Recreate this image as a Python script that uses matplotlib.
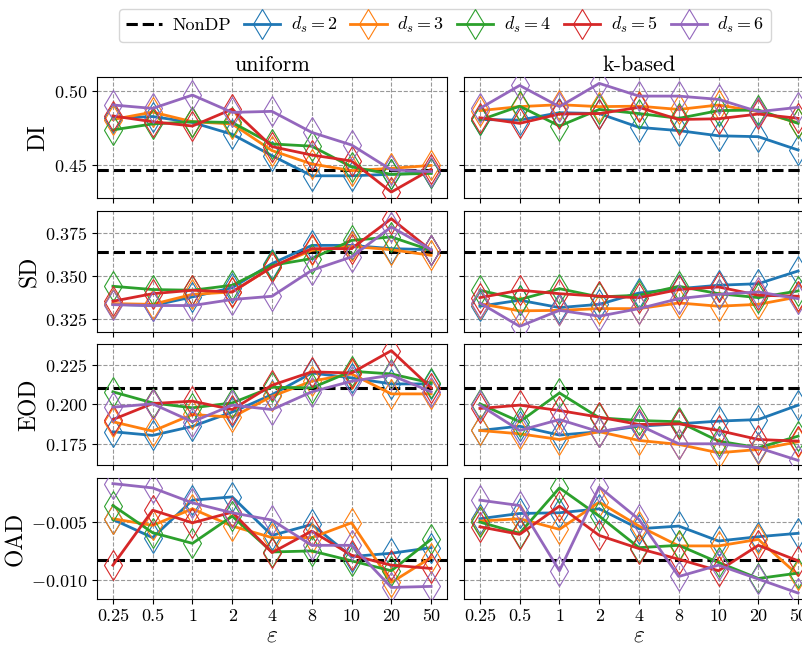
import matplotlib
matplotlib.use("Agg")
import matplotlib.pyplot as plt
from matplotlib.lines import Line2D

plt.rcParams['font.family'] = ['cmr10', 'DejaVu Serif']
plt.rcParams['mathtext.fontset'] = 'cm'
plt.rcParams['axes.unicode_minus'] = False
plt.rcParams['axes.formatter.use_mathtext'] = True

eps_labels = ['0.25', '0.5', '1', '2', '4', '8', '10', '20', '50']
ds_values = [2, 3, 4, 5, 6]
colors = ['#1f77b4', '#ff7f0e', '#2ca02c', '#d62728', '#9467bd']
metrics = ['DI', 'SD', 'EOD', 'OAD']
schemes = ['uniform', 'k-based']

nondp = {'DI': 0.447, 'SD': 0.3638, 'EOD': 0.2103, 'OAD': -0.00827}

# DI
di_uniform = [
    [0.482, 0.483, 0.479, 0.471, 0.4566, 0.443, 0.443, 0.444, 0.445],
    [0.481, 0.486, 0.4795, 0.478, 0.460, 0.451, 0.4465, 0.448, 0.450],
    [0.474, 0.478, 0.4795, 0.479, 0.4645, 0.463, 0.449, 0.444, 0.4446],
    [0.4834, 0.4795, 0.4766, 0.488, 0.4627, 0.457, 0.453, 0.432, 0.4473],
    [0.4908, 0.4885, 0.4975, 0.4858, 0.4865, 0.4723, 0.4638, 0.447, 0.4458],
]
di_kbased = [
    [0.481, 0.4806, 0.4856, 0.485, 0.4757, 0.4735, 0.470, 0.4694, 0.4604],
    [0.487, 0.4897, 0.491, 0.4897, 0.490, 0.4878, 0.4908, 0.4863, 0.4788],
    [0.4806, 0.490, 0.4766, 0.4878, 0.485, 0.4818, 0.487, 0.4874, 0.4784],
    [0.4822, 0.4784, 0.4847, 0.485, 0.4892, 0.481, 0.4815, 0.4847, 0.4818],
    [0.4885, 0.504, 0.4897, 0.5054, 0.4968, 0.4968, 0.4946, 0.4863, 0.4892],
]

# SD
sd_uniform = [
    [0.3333, 0.3326, 0.3376, 0.343, 0.357, 0.3676, 0.3676, 0.3657, 0.3651],
    [0.3337, 0.3333, 0.3391, 0.3405, 0.355, 0.3647, 0.367, 0.3651, 0.3618],
    [0.3438, 0.3419, 0.3415, 0.3444, 0.356, 0.3599, 0.3705, 0.3725, 0.3647],
    [0.3351, 0.3395, 0.3415, 0.3405, 0.355, 0.3657, 0.3657, 0.3831, 0.3647],
    [0.3331, 0.3326, 0.3326, 0.3361, 0.338, 0.3531, 0.3609, 0.3783, 0.3651],
]
sd_kbased = [
    [0.3322, 0.3357, 0.3314, 0.3333, 0.3399, 0.3424, 0.3444, 0.3453, 0.3527],
    [0.3337, 0.3295, 0.3298, 0.3308, 0.3308, 0.3341, 0.3322, 0.3333, 0.3376],
    [0.3415, 0.3361, 0.3424, 0.3376, 0.3386, 0.3438, 0.3395, 0.3372, 0.3411],
    [0.3372, 0.3415, 0.3395, 0.338, 0.3372, 0.3419, 0.3434, 0.3386, 0.338],
    [0.3341, 0.3205, 0.3298, 0.3264, 0.3308, 0.3366, 0.3391, 0.3405, 0.3366],
]

# EOD
eod_uniform = [
    [0.1826, 0.1803, 0.1860, 0.1950, 0.2060, 0.2197, 0.2166, 0.2128, 0.2128],
    [0.1889, 0.183, 0.1935, 0.1918, 0.2050, 0.2145, 0.2191, 0.2065, 0.2065],
    [0.2078, 0.2008, 0.1977, 0.2008, 0.2107, 0.2103, 0.2208, 0.2191, 0.2134],
    [0.1903, 0.2004, 0.2019, 0.1966, 0.212, 0.2204, 0.2197, 0.2338, 0.2103],
    [0.1981, 0.2002, 0.1889, 0.1994, 0.1966, 0.2078, 0.2145, 0.2183, 0.2078],
]
eod_kbased = [
    [0.1834, 0.1861, 0.1805, 0.1826, 0.1861, 0.1876, 0.1893, 0.1903, 0.1994],
    [0.1834, 0.1813, 0.1777, 0.1826, 0.1771, 0.1746, 0.1693, 0.1714, 0.1763],
    [0.2002, 0.1889, 0.2071, 0.1914, 0.1897, 0.1889, 0.1767, 0.1725, 0.1798],
    [0.1973, 0.1994, 0.196, 0.1918, 0.1872, 0.1876, 0.1834, 0.1777, 0.1767],
    [0.1994, 0.1834, 0.1903, 0.1826, 0.1868, 0.175, 0.175, 0.1725, 0.1645],
]

# OAD
oad_uniform = [
    [-0.0048, -0.00636, -0.00315, -0.00287, -0.00617, -0.00523, -0.00798, -0.0077, -0.00722],
    [-0.00474, -0.00531, -0.00389, -0.00537, -0.00636, -0.00636, -0.00509, -0.0102, -0.00807],
    [-0.00361, -0.00594, -0.00685, -0.00452, -0.00759, -0.0075, -0.00835, -0.0092, -0.00651],
    [-0.00872, -0.00401, -0.00509, -0.00418, -0.00764, -0.0058, -0.00787, -0.00872, -0.009],
    [-0.00173, -0.0021, -0.00338, -0.00423, -0.00486, -0.00702, -0.00702, -0.01063, -0.01054],
]
oad_kbased = [
    [-0.00474, -0.00429, -0.00423, -0.00389, -0.0056, -0.00537, -0.00665, -0.00628, -0.00599],
    [-0.00494, -0.00474, -0.00565, -0.00332, -0.00537, -0.00707, -0.00707, -0.00651, -0.00957],
    [-0.00503, -0.00599, -0.0021, -0.00452, -0.00722, -0.00702, -0.00849, -0.00986, -0.0094],
    [-0.00543, -0.00608, -0.00366, -0.00617, -0.0073, -0.00821, -0.0092, -0.00702, -0.00835],
    [-0.00315, -0.00361, -0.0092, -0.00202, -0.0048, -0.00969, -0.00872, -0.00991, -0.01111],
]

data = {
    'DI': [di_uniform, di_kbased],
    'SD': [sd_uniform, sd_kbased],
    'EOD': [eod_uniform, eod_kbased],
    'OAD': [oad_uniform, oad_kbased],
}
ylims = {
    'DI': (0.428, 0.5097),
    'SD': (0.3172, 0.3876),
    'EOD': (0.1616, 0.238),
    'OAD': (-0.01162, -0.00125),
}
yticks = {
    'DI': [0.45, 0.50],
    'SD': [0.325, 0.350, 0.375],
    'EOD': [0.175, 0.200, 0.225],
    'OAD': [-0.010, -0.005],
}
yfmt = {'DI': '{:.2f}', 'SD': '{:.3f}', 'EOD': '{:.3f}', 'OAD': '{:.3f}'}

W, H = 802, 646
fig = plt.figure(figsize=(W / 100, H / 100), dpi=100)

col_left = [97, 464]
ax_w = 350
row_top = [77, 211, 344, 478]
ax_h = 121

x = list(range(len(eps_labels)))

for r, m in enumerate(metrics):
    for c in range(2):
        ax = fig.add_axes([col_left[c] / W, 1 - (row_top[r] + ax_h) / H, ax_w / W, ax_h / H])
        ax.grid(True, linestyle='--', color='gray', linewidth=0.8, alpha=0.8)
        ax.set_axisbelow(True)
        ax.axhline(nondp[m], color='black', linestyle='--', linewidth=2.2, zorder=1)
        for i, ds in enumerate(ds_values):
            ax.plot(x, data[m][c][i], color=colors[i], linewidth=2.0,
                    marker='d', markersize=15, markerfacecolor='none',
                    markeredgewidth=0.8, zorder=3)
        ax.set_xlim(-0.4, 8.4)
        ax.set_ylim(*ylims[m])
        ax.set_yticks(yticks[m])
        ax.set_xticks(x)
        ax.tick_params(labelsize=13)
        if c == 0:
            ax.set_yticklabels(['$' + yfmt[m].format(v) + '$' for v in yticks[m]])
            ax.set_ylabel(m, fontsize=17, labelpad=3)
        else:
            ax.set_yticklabels([])
        if r == 3:
            ax.set_xticklabels(eps_labels)
            ax.set_xlabel(r'$\varepsilon$', fontsize=17, labelpad=0)
        else:
            ax.set_xticklabels([])
        if r == 0:
            ax.set_title(schemes[c], fontsize=16, pad=4)

handles = [Line2D([], [], color='black', linestyle='--', linewidth=2.2)]
labels = ['NonDP']
for i, ds in enumerate(ds_values):
    handles.append(Line2D([], [], color=colors[i], linewidth=2.0, marker='d',
                          markersize=15, markerfacecolor='none', markeredgewidth=0.8))
    labels.append(r'$d_s = %d$' % ds)
fig.legend(handles, labels, loc='upper center', bbox_to_anchor=(0.555, 1.0),
           ncol=6, fontsize=13, handlelength=2.0, columnspacing=0.7, handletextpad=0.6,
           borderpad=0.35, frameon=True)

fig.savefig('out.png', dpi=100)
